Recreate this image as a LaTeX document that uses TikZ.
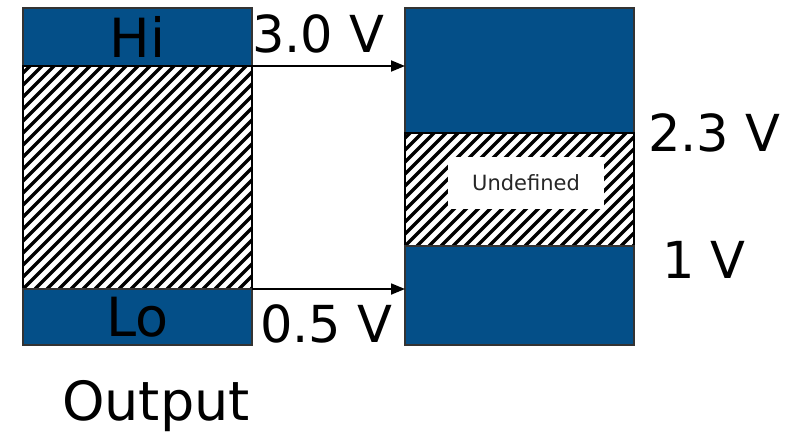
\documentclass[tikz,border=0pt]{standalone}
\usepackage{fontspec}
\setmainfont{DejaVu Sans}
\usetikzlibrary{calc,arrows.meta}
\definecolor{bandblue}{RGB}{4,79,136}
\begin{document}
\begin{tikzpicture}[x=1pt,y=-1pt,
  band/.style={draw=black!80,line width=1.2pt,fill=bandblue,inner sep=0pt,outer sep=0pt,anchor=north west},
  hatched/.style={draw=black,line width=1.5pt,inner sep=0pt,outer sep=0pt,anchor=north west,
    path picture={\foreach \k in {-22,...,22}
      \draw[line width=3.5pt] ($(path picture bounding box.south west)+(\k*12pt,0pt)$) -- ++(300pt,300pt);}},
  big/.style={font=\fontsize{54}{60}\selectfont},
  volt/.style={font=\fontsize{51}{58}\selectfont,anchor=base west,inner sep=0pt},
  arr/.style={line width=1.8pt,-{Triangle[length=14pt,width=11pt]}}]
\useasboundingbox (0,0) rectangle (791,432);

% driver side: output levels
\node[band,minimum width=229pt,minimum height=58pt,big] (hi) at (23,8) {Hi};
\node[hatched,minimum width=229pt,minimum height=223pt] (lmid) at (23,66) {};
\node[band,minimum width=229pt,minimum height=56pt,big] (lo) at (23,289) {Lo};

% receiver side: input thresholds
\node[band,minimum width=229pt,minimum height=125pt] (rtop) at (405,8) {};
\node[hatched,minimum width=229pt,minimum height=113pt] (rmid) at (405,133) {};
\node[band,minimum width=229pt,minimum height=99pt] (rbot) at (405,246) {};
\node[fill=white,minimum width=156pt,minimum height=52pt,inner sep=0pt,
      font=\fontsize{21}{24}\selectfont,text=black!85] (undef) at (526,183) {Undefined};

% level mapping
\draw[arr] (lmid.north east) -- (lmid.north east -| rtop.west);
\draw[arr] (lmid.south east) -- (lmid.south east -| rbot.west);

% voltage labels
\node[volt] (vhi) at (252,52) {3.0 V};
\node[volt] (vlo) at (260,342) {0.5 V};
\node[volt] (vih) at (648,151) {2.3 V};
\node[volt] (vil) at (662,278) {1 V};
\node[big,anchor=base west,inner sep=0pt] (out) at (62,420) {Output};
\end{tikzpicture}
\end{document}
